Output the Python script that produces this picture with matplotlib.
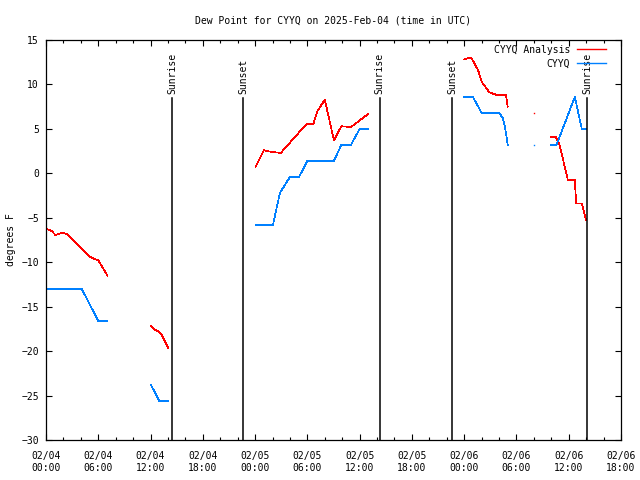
# Dew point chart for CYYQ, gnuplot-like look
import numpy as np
import matplotlib
matplotlib.use("Agg")
import matplotlib.pyplot as plt
import matplotlib.dates as mdates
from datetime import datetime, timedelta

# hours since 2025-02-04 00:00 UTC, NaN = gap
nan = np.nan
analysis_hours = [0, 0.65, 1.1, 1.9, 2.4, 2.95, 5.05, 5.6, 6.0, 7.05, nan,
                  12.05, 12.5, 12.9, 13.3, 14.05, nan,
                  24.05, 25.0, 25.9, 26.95, 29.9, 30.7, 31.1, 32.0, 33.05, 33.9, 35.0, 37.0, nan,
                  47.95, 48.8, 49.6, 50.0, 50.9, 51.8, 52.8, 53.0, nan,
                  56.0, nan,
                  57.9, 58.5, 58.95, 59.9, 60.7, 60.85, 61.5, 62.0]
analysis_dewpt = [-6.2, -6.5, -6.95, -6.65, -6.85, -7.3, -9.4, -9.65, -9.8, -11.5, nan,
                  -17.2, -17.6, -17.8, -18.2, -19.7, nan,
                  0.7, 2.6, 2.4, 2.3, 5.55, 5.55, 6.9, 8.3, 3.7, 5.3, 5.2, 6.7, nan,
                  12.8, 13.05, 11.6, 10.3, 9.1, 8.8, 8.8, 7.5, nan,
                  6.8, nan,
                  4.1, 4.1, 3.2, -0.75, -0.75, -3.4, -3.4, -5.3]

obs_hours = [0, 4.1, 6.0, 7.05, nan,
             12.05, 13.0, 14.05, nan,
             24.05, 26.05, 26.85, 28.0, 29.05, 30.0, 33.05, 33.9, 35.0, 36.0, 37.0, nan,
             48.0, 49.0, 50.0, 52.0, 52.45, 52.7, 53.0, nan,
             56.0, nan,
             57.9, 58.6, 60.7, 61.5, 62.0]
obs_dewpt = [-13.0, -13.0, -16.6, -16.6, nan,
             -23.8, -25.6, -25.6, nan,
             -5.8, -5.8, -2.2, -0.4, -0.4, 1.4, 1.4, 3.2, 3.2, 5.0, 5.0, nan,
             8.6, 8.6, 6.8, 6.8, 6.2, 5.1, 3.2, nan,
             3.2, nan,
             3.2, 3.2, 8.6, 5.0, 5.0]

# sunrise / sunset times (hours since start)
sun_hours = [14.45, 22.6, 38.3, 46.65, 62.15]
sun_labels = ["Sunrise", "Sunset", "Sunrise", "Sunset", "Sunrise"]

start = datetime(2025, 2, 4)


def isolated(values):
    # points without neighbours are not visible with plain lines
    v = np.array(values, dtype=float)
    idx = []
    for i in range(len(v)):
        if np.isnan(v[i]):
            continue
        left = i == 0 or np.isnan(v[i - 1])
        right = i == len(v) - 1 or np.isnan(v[i + 1])
        if left and right:
            idx.append(i)
    return idx


plt.rcParams['font.family'] = ['DejaVu Sans Mono']
plt.rcParams['font.size'] = 7

fig = plt.figure(figsize=(6.4, 4.8), dpi=100)
ax = fig.add_axes([46 / 640, 40 / 480, 575 / 640, 400 / 480])

red = '#ff0000'
blue = '#0080ff'

for hrs, vals, col, lab in [(analysis_hours, analysis_dewpt, red, 'CYYQ Analysis'),
                            (obs_hours, obs_dewpt, blue, 'CYYQ')]:
    x = [mdates.date2num(start + timedelta(hours=h)) if not np.isnan(h) else nan for h in hrs]
    ax.plot(x, vals, color=col, lw=0.5, label=lab, antialiased=False)
    for i in isolated(vals):
        ax.plot([x[i]], [vals[i]], 's', color=col, ms=1.0, mew=0)

for h, lab in zip(sun_hours, sun_labels):
    xs = mdates.date2num(start + timedelta(hours=h))
    ax.axvline(xs, ymin=0, ymax=0.855, color='black', lw=1.1)
    ax.text(xs, 8.95, lab, rotation=90, ha='center', va='bottom', fontsize=7)

ax.set_xlim(mdates.date2num(start), mdates.date2num(start + timedelta(hours=66)))
ax.set_ylim(-30, 15)
ax.set_yticks(np.arange(-30, 16, 5))

ax.xaxis.set_major_locator(mdates.HourLocator(byhour=[0, 6, 12, 18]))
ax.xaxis.set_minor_locator(mdates.HourLocator(byhour=range(0, 24, 2)))
ax.xaxis.set_major_formatter(mdates.DateFormatter('%m/%d\n%H:%M'))

ax.tick_params(which='both', direction='in', top=True, right=True, width=0.8)
ax.tick_params(which='major', length=4.5)
ax.tick_params(which='minor', length=2.5)
ax.tick_params(axis='x', which='major', pad=8)
ax.tick_params(axis='y', pad=5)
for sp in ax.spines.values():
    sp.set_linewidth(0.9)

ax.set_ylabel('degrees F', labelpad=4)
ax.set_title('Dew Point for CYYQ on 2025-Feb-04 (time in UTC)', pad=12, fontsize=7)

leg = ax.legend(loc='upper right', bbox_to_anchor=(1 - 10 / 575, 1), frameon=False,
                markerfirst=False, handlelength=3.0, borderaxespad=0.1,
                labelspacing=0.35, handletextpad=0.7, fontsize=7)
for ln in leg.get_lines():
    ln.set_linewidth(1.0)
    ln.set_antialiased(True)

fig.savefig('out.png', dpi=100)
